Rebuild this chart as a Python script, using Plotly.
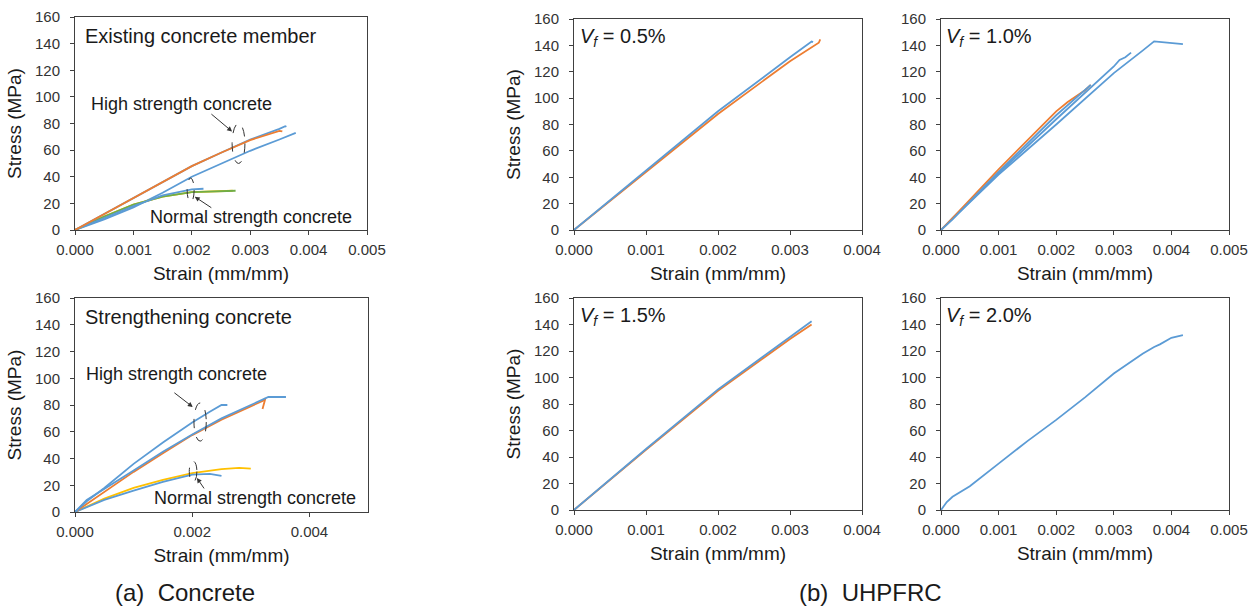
import plotly.graph_objects as go

BLUE = "#5B9BD5"; ORANGE = "#ED7D31"; YELLOW = "#FFC000"; GREEN = "#70AD47"

# ---- (a) Existing concrete member ----
ex_hsc1_x = [0, 0.0005, 0.001, 0.0015, 0.002, 0.0025, 0.003, 0.0035, 0.0036, 0.00362]
ex_hsc1_y = [0, 12, 24, 36, 48, 58, 68, 76, 78, 77.5]
ex_hsc2_x = [0, 0.0005, 0.001, 0.0015, 0.002, 0.0025, 0.003, 0.0035, 0.00355]
ex_hsc2_y = [0, 12, 24, 36, 48, 58, 67.5, 74.5, 74]
ex_hsc3_x = [0, 0.0005, 0.001, 0.0015, 0.002, 0.0025, 0.003, 0.0035, 0.00378]
ex_hsc3_y = [0, 8, 17, 28, 40, 50, 59.5, 68, 73]
ex_nsc1_x = [0, 0.0005, 0.001, 0.0015, 0.002, 0.0022]
ex_nsc1_y = [0, 9, 18, 26, 30.5, 31]
ex_nsc2_x = [0, 0.0005, 0.001, 0.0015, 0.002, 0.0025, 0.00275]
ex_nsc2_y = [0, 10, 19, 25, 28.5, 29.5, 29.5]
ex_nsc3_x = [0, 0.0005, 0.001, 0.0015, 0.002, 0.0025, 0.0027]
ex_nsc3_y = [0, 10, 19, 25, 28.5, 29.5, 29.5]

# ---- (a) Strengthening concrete ----
st_hsc1_x = [0, 0.0002, 0.0005, 0.001, 0.0015, 0.002, 0.0023, 0.0025, 0.0026]
st_hsc1_y = [0, 8, 18, 36, 52, 67, 75, 80, 80]
st_hsc2_x = [0, 0.0002, 0.001, 0.0015, 0.002, 0.0025, 0.003, 0.0033, 0.0036]
st_hsc2_y = [0, 9, 31, 45, 58, 70, 80, 86, 86]
st_hsc3_x = [0, 0.001, 0.0015, 0.002, 0.0025, 0.003, 0.0032, 0.00325, 0.0032]
st_hsc3_y = [0, 30, 44, 57.5, 69, 79, 83, 85, 77]
st_nsc1_x = [0, 0.0005, 0.001, 0.0015, 0.002, 0.0025, 0.0028, 0.003]
st_nsc1_y = [0, 10, 18, 24, 29, 32, 33, 32.5]
st_nsc2_x = [0, 0.0005, 0.001, 0.0015, 0.002, 0.0023, 0.0025]
st_nsc2_y = [0, 9, 16, 22.5, 28, 28.5, 27]

# ---- (b) UHPFRC ----
v05_b_x = [0, 0.001, 0.002, 0.003, 0.0033, 0.00332]
v05_b_y = [0, 45, 90, 131, 143, 142.5]
v05_o_x = [0, 0.001, 0.002, 0.003, 0.0034, 0.00342]
v05_o_y = [0, 44, 88, 128, 142, 144.5]

v10_o_x = [0, 0.0002, 0.001, 0.002, 0.0022, 0.0025, 0.0026]
v10_o_y = [0, 9, 46, 90, 97, 106, 110]
v10_b1_x = [0, 0.0002, 0.001, 0.002, 0.0026]
v10_b1_y = [0, 8, 44, 87, 110]
v10_b2_x = [0, 0.0002, 0.001, 0.002, 0.003, 0.0031, 0.0032, 0.0033]
v10_b2_y = [0, 9, 43, 84, 124, 129, 131, 134.5]
v10_b3_x = [0, 0.001, 0.002, 0.003, 0.0035, 0.0037, 0.0042]
v10_b3_y = [0, 42, 80, 119, 136, 143, 141]

v15_o_x = [0, 0.001, 0.002, 0.003, 0.0033]
v15_o_y = [0, 45.5, 90, 129, 140]
v15_b_x = [0, 0.001, 0.002, 0.003, 0.0033]
v15_b_y = [0, 46, 91, 131, 142.5]

v20_b_x = [0, 0.0001, 0.0002, 0.0005, 0.001, 0.0015, 0.002, 0.0025, 0.003,
           0.0035, 0.0037, 0.0038, 0.004, 0.0042]
v20_b_y = [0, 6, 10, 18, 35, 52, 68, 85, 103, 118, 123, 125, 130, 132]

y_ticks = [0, 20, 40, 60, 80, 100, 120, 140, 160]

FONT = "Arial, Liberation Sans, sans-serif"
TXT = "#1a1a1a"
TICKC = "#333333"

fig = go.Figure()

def add(x, y, color, ax):
    fig.add_trace(go.Scatter(x=x, y=y, mode="lines", line=dict(color=color, width=1.8),
                             xaxis="x" + ax, yaxis="y" + ax, showlegend=False,
                             hoverinfo="skip"))

# panel 1 (existing)
add(ex_hsc3_x, ex_hsc3_y, BLUE, "")
add(ex_nsc3_x, ex_nsc3_y, YELLOW, "")
add(ex_nsc2_x, ex_nsc2_y, GREEN, "")
add(ex_nsc1_x, ex_nsc1_y, BLUE, "")
add(ex_hsc1_x, ex_hsc1_y, BLUE, "")
add(ex_hsc2_x, ex_hsc2_y, ORANGE, "")
# panel 2 (strengthening)
add(st_nsc1_x, st_nsc1_y, YELLOW, "2")
add(st_nsc2_x, st_nsc2_y, BLUE, "2")
add(st_hsc3_x, st_hsc3_y, ORANGE, "2")
add(st_hsc2_x, st_hsc2_y, BLUE, "2")
add(st_hsc1_x, st_hsc1_y, BLUE, "2")
# panel 3 Vf=0.5
add(v05_o_x, v05_o_y, ORANGE, "3")
add(v05_b_x, v05_b_y, BLUE, "3")
# panel 4 Vf=1.0
add(v10_b3_x, v10_b3_y, BLUE, "4")
add(v10_b2_x, v10_b2_y, BLUE, "4")
add(v10_o_x, v10_o_y, ORANGE, "4")
add(v10_b1_x, v10_b1_y, BLUE, "4")
# panel 5 Vf=1.5
add(v15_o_x, v15_o_y, ORANGE, "5")
add(v15_b_x, v15_b_y, BLUE, "5")
# panel 6 Vf=2.0
add(v20_b_x, v20_b_y, BLUE, "6")

W, H = 1254, 606
def dx(a, b): return [a / W, b / W]
def dy(top, bot): return [1 - bot / H, 1 - top / H]

def xax(dom, anchor, rng, dtick, fmt, title):
    return dict(domain=dom, anchor=anchor, range=rng, dtick=dtick, tick0=0,
                tickformat=fmt, showline=True, mirror=True, linecolor="#404040",
                linewidth=1, ticks="outside", ticklen=4, tickcolor="#404040",
                showgrid=False, zeroline=False, automargin=False, ticklabelstandoff=2,
                tickfont=dict(family=FONT, size=15, color=TICKC),
                title=dict(text=title, font=dict(family=FONT, size=19, color=TXT), standoff=9))

def yax(dom, anchor, title):
    d = dict(domain=dom, anchor=anchor, range=[0, 160], tickvals=y_ticks,
             showline=True, mirror=True, linecolor="#404040", linewidth=1,
             ticks="outside", ticklen=4, tickcolor="#404040",
             showgrid=False, zeroline=False, automargin=False, ticklabelstandoff=7,
             tickfont=dict(family=FONT, size=15, color=TICKC))
    if title:
        d["title"] = dict(text=title, font=dict(family=FONT, size=19, color=TXT), standoff=8)
    return d

LX = dx(75, 367); LX2 = dx(75, 368)
MX = dx(574, 862); RX = dx(941, 1229)
T1 = dy(17, 230); B1 = dy(298, 512)
T2 = dy(19, 230); B2 = dy(298, 510)

layout = dict(
    width=W, height=H, margin=dict(l=0, r=0, t=0, b=0),
    paper_bgcolor="white", plot_bgcolor="white",
    xaxis=xax(LX, "y", [0, 0.005], 0.001, ".3f", "Strain (mm/mm)"),
    yaxis=yax(T1, "x", "Stress (MPa)"),
    xaxis2=xax(LX2, "y2", [0, 0.005], 0.002, ".3f", "Strain (mm/mm)"),
    yaxis2=yax(B1, "x2", "Stress (MPa)"),
    xaxis3=xax(MX, "y3", [0, 0.004], 0.001, ".3f", "Strain (mm/mm)"),
    yaxis3=yax(T2, "x3", "Stress (MPa)"),
    xaxis4=xax(RX, "y4", [0, 0.005], 0.001, ".3f", "Strain (mm/mm)"),
    yaxis4=yax(T2, "x4", None),
    xaxis5=xax(MX, "y5", [0, 0.004], 0.001, ".3f", "Strain (mm/mm)"),
    yaxis5=yax(B2, "x5", "Stress (MPa)"),
    xaxis6=xax(RX, "y6", [0, 0.005], 0.001, ".3f", "Strain (mm/mm)"),
    yaxis6=yax(B2, "x6", None),
)
fig.update_layout(**layout)

anns = []
def text(xref, yref, x, y, t, size, xanchor="left"):
    anns.append(dict(xref=xref, yref=yref, x=x, y=y, text=t, showarrow=False,
                     xanchor=xanchor, yanchor="middle",
                     font=dict(family=FONT, size=size, color=TXT)))

def arrow(xref, yref, x, y, ax, ay):
    anns.append(dict(xref=xref, yref=yref, axref=xref, ayref=yref, x=x, y=y, ax=ax, ay=ay,
                     text="", showarrow=True, arrowhead=2, arrowsize=1, arrowwidth=1,
                     arrowcolor="#333333"))

# panel titles
text("x", "y", 0.00014, 146, "Existing concrete member", 20)
text("x2", "y2", 0.00014, 146, "Strengthening concrete", 20)
text("x3", "y3", 0.00005, 146, "<i>V<sub>f</sub></i> = 0.5%", 20)
text("x4", "y4", 0.00006, 146, "<i>V<sub>f</sub></i> = 1.0%", 20)
text("x5", "y5", 0.00005, 146, "<i>V<sub>f</sub></i> = 1.5%", 20)
text("x6", "y6", 0.00006, 146, "<i>V<sub>f</sub></i> = 2.0%", 20)

# group labels
text("x", "y", 0.00182, 95, "High strength concrete", 18, "center")
text("x", "y", 0.00301, 10, "Normal strength concrete", 18, "center")
text("x2", "y2", 0.00174, 103, "High strength concrete", 18, "center")
text("x2", "y2", 0.00307, 10.5, "Normal strength concrete", 18, "center")

arrow("x", "y", 0.00269, 74, 0.00231, 88)
arrow("x", "y", 0.00205, 25, 0.00236, 16)
arrow("x2", "y2", 0.00201, 78.5, 0.00167, 90)
arrow("x2", "y2", 0.00208, 25.5, 0.00222, 16.5)

# bottom captions
text("paper", "paper", 185 / W, 1 - 592 / H, "(a)  Concrete", 24, "center")
text("paper", "paper", 870 / W, 1 - 592 / H, "(b)  UHPFRC", 24, "center")

fig.update_layout(annotations=anns)

# dashed ellipses
shapes = []
def ell(xr, yr, x0, x1, y0, y1):
    shapes.append(dict(type="circle", xref=xr, yref=yr, x0=x0, x1=x1, y0=y0, y1=y1,
                       line=dict(color="#333333", width=1, dash="dash")))
ell("x", "y", 0.00269, 0.00291, 50, 80)
ell("x", "y", 0.00192, 0.00204, 21, 39)
ell("x2", "y2", 0.00203, 0.00224, 53, 81.5)
ell("x2", "y2", 0.00195, 0.00208, 22.5, 38)
fig.update_layout(shapes=shapes)

fig.write_html("out.html", config={"displayModeBar": False},
               post_script="document.body.style.margin='0';document.body.style.overflow='hidden';")
